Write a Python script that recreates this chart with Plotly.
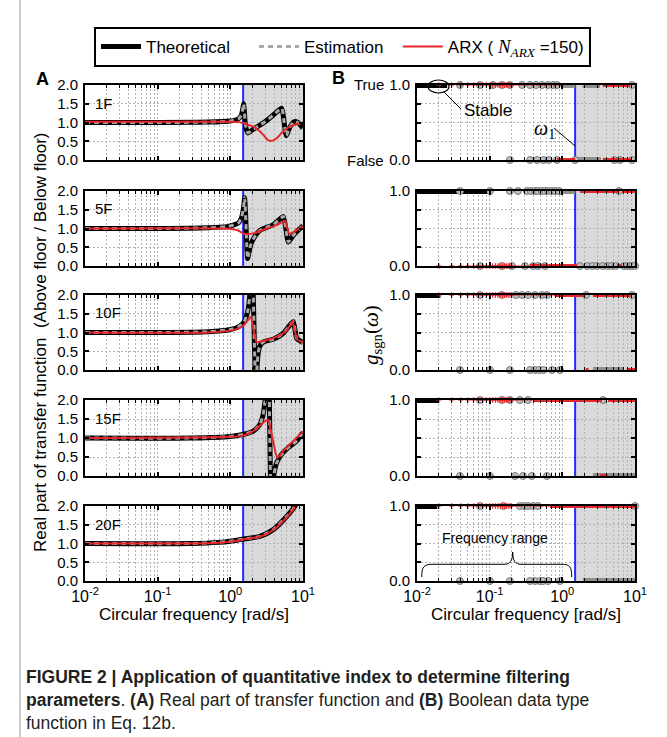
import plotly.graph_objects as go

W, H = 667, 737
SANS = "Liberation Sans, Arial, Helvetica, sans-serif"
SERIF = "Liberation Serif, Times New Roman, serif"
GRID = "#b4b4b4"
SHADE = "#d9d9d9"
RED = "#e8262a"
GRAY = "#a9a9a9"
BLUE = "#1f2cff"
NBSP = "\u00a0"

omega_1 = 1.5  # first natural circular frequency [rad/s]

panel_names = ["1F", "5F", "10F", "15F", "20F"]

# ---------------- (A) real part of transfer function ----------------
freq_theo_1F = [0.01, 0.1, 0.5, 1.0, 1.3, 1.42, 1.48, 1.52, 1.56, 1.6, 1.68, 1.75, 2.0, 2.5,
                3.0, 3.8, 4.6, 5.1, 5.5, 5.9, 6.5, 7.5, 8.5, 10]
theo_1F = [1.0, 1.0, 1.01, 1.04, 1.1, 1.2, 1.35, 1.5, 1.3, 1.0, 0.78, 0.72, 0.8, 0.92,
           1.02, 1.18, 1.32, 1.38, 1.0, 0.65, 0.85, 1.02, 1.0, 0.85]
freq_arx_1F = [0.01, 1.0, 1.3, 1.54, 1.8, 2.07, 2.5, 2.85, 3.3, 3.7, 4.35, 5.3, 6.6, 8.3, 10]
arx_1F = [1.02, 1.02, 1.01, 0.98, 0.93, 0.89, 0.78, 0.67, 0.53, 0.51, 0.58, 0.76, 0.89, 0.96, 1.0]

freq_theo_5F = [0.01, 0.1, 0.5, 0.9, 1.1, 1.3, 1.43, 1.53, 1.57, 1.62, 1.67, 1.73, 1.8, 1.9,
                2.07, 2.56, 3.9, 5.0, 5.36, 5.8, 6.28, 7.36, 9.6, 10]
theo_5F = [1.0, 1.0, 1.02, 1.05, 1.09, 1.15, 1.3, 1.6, 1.82, 1.4, 0.7, 0.2, 0.35, 0.55,
           0.72, 0.95, 1.1, 1.28, 1.32, 1.0, 0.64, 0.82, 1.04, 1.06]
freq_arx_5F = [0.01, 0.8, 1.1, 1.3, 1.54, 2.07, 3.16, 4.35, 5.65, 6.1, 6.5, 7.36, 9.6, 10]
arx_5F = [1.0, 1.0, 0.98, 0.94, 0.86, 0.87, 1.0, 1.09, 1.21, 1.0, 0.86, 0.9, 1.04, 1.05]

freq_theo_10F = [0.01, 0.1, 0.5, 1.0, 1.3, 1.54, 1.75, 1.87, 1.95, 2.05, 2.15, 2.25, 2.35, 2.5,
                 2.85, 3.9, 5.36, 6.62, 7.36, 8.2, 9.6, 10]
theo_10F = [1.0, 1.0, 1.02, 1.08, 1.15, 1.28, 1.6, 2.1, 2.8, 2.2, 0.6, -0.6, 0.2, 0.6,
            0.75, 0.82, 0.98, 1.2, 1.29, 0.84, 0.75, 0.72]
freq_arx_10F = [0.01, 0.5, 1.0, 1.3, 1.54, 1.75, 1.91, 2.1, 2.3, 2.6, 3.9, 5.36, 6.62, 7.2,
                7.6, 8.3, 9.6, 10]
arx_10F = [1.0, 1.0, 1.05, 1.11, 1.2, 1.33, 1.42, 1.05, 0.75, 0.76, 0.85, 0.98, 1.18, 1.3,
           1.12, 0.82, 0.75, 0.73]

freq_theo_15F = [0.01, 0.3, 1.0, 1.54, 2.07, 2.56, 2.85, 3.0, 3.2, 3.35, 3.5, 3.65, 3.8, 3.95,
                 4.35, 5.08, 6.28, 8.2, 9.6, 10]
theo_15F = [1.0, 1.0, 1.04, 1.1, 1.18, 1.36, 1.65, 1.97, 2.5, 3.2, 1.0, -1.0, -0.4, 0.0,
            0.35, 0.57, 0.75, 0.92, 1.1, 1.13]
freq_arx_15F = [0.01, 1.0, 1.54, 2.07, 2.56, 3.0, 3.33, 3.6, 4.0, 4.43, 5.36, 7.0, 9.6, 10]
arx_15F = [1.0, 1.03, 1.07, 1.18, 1.33, 1.44, 1.48, 1.2, 0.8, 0.48, 0.66, 0.88, 1.14, 1.16]

freq_theo_20F = [0.01, 0.3, 0.7, 1.0, 1.54, 2.56, 3.9, 5.96, 7.76, 9.0, 10]
theo_20F = [1.0, 1.0, 1.03, 1.06, 1.12, 1.19, 1.37, 1.72, 2.0, 2.3, 2.6]
freq_arx_20F = [0.01, 0.3, 0.7, 1.0, 1.54, 2.56, 3.9, 5.96, 7.76, 9.0, 10]
arx_20F = [1.0, 1.0, 1.02, 1.05, 1.11, 1.18, 1.36, 1.7, 1.98, 2.28, 2.55]

freq_theo = [freq_theo_1F, freq_theo_5F, freq_theo_10F, freq_theo_15F, freq_theo_20F]
theo_vals = [theo_1F, theo_5F, theo_10F, theo_15F, theo_20F]
# the estimated transfer function follows the theoretical one
freq_est = freq_theo
est_vals = theo_vals
freq_arx = [freq_arx_1F, freq_arx_5F, freq_arx_10F, freq_arx_15F, freq_arx_20F]
arx_vals = [arx_1F, arx_5F, arx_10F, arx_15F, arx_20F]

# ---------------- (B) boolean function g_sgn(w) ----------------
# runs are (start, end) frequency intervals; points are single frequencies
b_theo_true_runs = [
    [(0.01, 0.026)],
    [(0.01, 0.101)],
    [(0.01, 0.021)],
    [(0.01, 0.0195)],
    [(0.01, 0.019)],
]
b_est_true_pts = [
    [0.039, 0.0736, 0.111, 0.148, 0.19, 0.279, 0.359, 0.434, 0.525, 0.635, 0.744, 0.845, 9.09],
    [0.039, 0.101, 0.19, 0.245, 0.326, 0.37, 0.42, 0.46, 0.52, 0.58, 0.64, 0.72, 0.8, 0.9, 6.02],
    [0.0736, 0.148, 0.23, 0.279, 0.337, 0.421, 0.525, 0.615, 2.12, 9.09],
    [0.0736, 0.148, 0.19, 0.26, 0.337, 3.63],
    [0.0736, 0.155, 0.26, 0.3, 0.337, 0.395, 0.462, 10.0],
]
b_est_false_pts = [
    [0.19, 0.36, 0.45, 0.55, 0.65, 0.845, 1.5, 5.2, 6.2, 9.1],
    [0.0736, 0.148, 0.203, 0.306, 0.395, 0.462, 0.577, 1.75, 2.2, 2.6, 3.0, 3.6, 4.2, 4.8,
     5.4, 7.0, 7.8, 8.5, 9.2, 10.0],
    [0.039, 0.101, 0.19, 0.359, 0.42, 0.48, 0.55, 0.721, 0.929],
    [0.039, 0.101, 0.223, 0.288, 0.38, 0.615],
    [0.039, 0.101, 0.19, 0.359, 0.421, 0.493, 0.542, 0.635, 0.929],
]
b_est_true_runs = [
    [(1.02, 1.5), (1.9, 3.3)],
    [(1.0, 1.5)],
    [],
    [],
    [],
]
b_est_false_runs = [
    [(1.6, 3.4)],
    [],
    [(2.64, 7.0)],
    [(2.64, 10.0)],
    [(1.92, 10.0)],
]
b_arx_true_runs = [
    [(3.6, 8.6)],
    [(1.75, 5.84), (6.62, 10.0)],
    [(0.8, 2.05), (2.64, 8.7)],
    [(0.395, 3.5), (4.25, 10.0)],
    [(0.677, 10.0)],
]
b_arx_false_runs = [
    [(0.85, 1.5), (3.6, 9.1)],
    [(0.36, 1.59), (5.65, 6.6)],
    [(2.1, 2.3), (7.7, 10.0)],
    [(3.3, 4.2)],
    [],
]
b_arx_thin_runs = [
    [(0.2, 1.0)],
    [(0.2, 0.36)],
    [(0.2, 0.8)],
    [(0.2, 0.395)],
    [(0.2, 0.677)],
]
b_arx_sparse_level = [1, 0, 1, 1, 1]
arx_sparse_freq = [0.02, 0.03, 0.04, 0.05, 0.06, 0.07, 0.08, 0.09, 0.10, 0.11, 0.12, 0.13,
                   0.14, 0.15, 0.16, 0.17, 0.18, 0.19, 0.20]

# axis ticks
x_major = [0.01, 0.1, 1, 10]
x_major_text = ["10<sup>-2</sup>", "10<sup>-1</sup>", "10<sup>0</sup>", "10<sup>1</sup>"]
x_minor = [m * d for d in (0.01, 0.1, 1.0) for m in range(2, 10)]

# page layout in pixels
row_px = [(85, 160), (191, 266), (295, 370), (400, 476), (506, 581)]
col_px = [(85, 303), (417, 635)]


def px(x):
    return x / W


def py(y):
    return 1 - y / H


def runs_xy(runs, level):
    xs, ys = [], []
    for f0, f1 in runs:
        xs += [f0, f1, None]
        ys += [level, level, None]
    return xs, ys


fig = go.Figure()
layout = dict(
    width=W, height=H, margin=dict(l=0, r=0, t=0, b=0, autoexpand=False),
    paper_bgcolor="white", plot_bgcolor="white",
    font=dict(family=SANS, size=15, color="black"),
    showlegend=True,
    legend=dict(orientation="h", x=px(342.5), xanchor="center", y=py(27), yanchor="top",
                bordercolor="black", borderwidth=2, bgcolor="white",
                font=dict(family=SANS, size=17, color="black"),
                itemclick=False, itemwidth=40),
    shapes=[], annotations=[],
)

for r in range(5):
    top, bot = row_px[r]
    for c in range(2):
        n = r * 2 + c + 1
        sfx = "" if n == 1 else str(n)
        xa, ya = "x" + sfx, "y" + sfx
        last = r == 4
        x0p, x1p = col_px[c]
        ymax = 2 if c == 0 else 1
        layout["xaxis" + sfx] = dict(
            type="log", range=[-2, 1], domain=[px(x0p), px(x1p)], anchor=ya,
            showline=True, linecolor="black", linewidth=2, mirror="ticks",
            ticks="inside", ticklen=4, tickwidth=1.5, tickcolor="black",
            tickmode="array", tickvals=x_major, ticktext=x_major_text,
            showticklabels=last, tickfont=dict(size=16),
            showgrid=True, gridcolor=GRID, griddash="2px,2px", gridwidth=1,
            minor=dict(tickmode="array", tickvals=x_minor, ticks="inside", ticklen=3,
                       tickwidth=1, tickcolor="black", showgrid=True, gridcolor=GRID,
                       griddash="2px,2px", gridwidth=1),
            zeroline=False, fixedrange=True,
            title=dict(text="Circular frequency [rad/s]" if last else "",
                       font=dict(size=17), standoff=2),
        )
        if c == 0:
            yt = dict(range=[0, 2], tickvals=[0, 0.5, 1, 1.5, 2],
                      ticktext=["0.0", "0.5", "1.0", "1.5", "2.0"])
        else:
            yt = dict(range=[0, 1], tickvals=[0, 0.25, 0.5, 0.75, 1],
                      ticktext=["0.0", "", "", "", "1.0"])
        layout["yaxis" + sfx] = dict(
            domain=[py(bot), py(top)], anchor=xa, tickmode="array",
            showline=True, linecolor="black", linewidth=2, mirror="ticks",
            ticks="inside", ticklen=4, tickwidth=2, tickcolor="black",
            showgrid=True, gridcolor=GRID, griddash="2px,2px", gridwidth=1,
            zeroline=False, fixedrange=True, tickfont=dict(size=15), ticklabelstandoff=2,
            **yt,
        )
        # shaded band above the first natural frequency
        layout["shapes"].append(dict(type="rect", xref=xa, yref=ya + " domain",
                                     x0=omega_1, x1=10, y0=0, y1=1, fillcolor=SHADE,
                                     line=dict(width=0), layer="below"))
        # marker line at the first natural frequency
        fig.add_trace(go.Scatter(x=[omega_1, omega_1], y=[0, ymax], xaxis=xa, yaxis=ya,
                                 mode="lines", line=dict(color=BLUE, width=2),
                                 showlegend=False, hoverinfo="skip"))

        if c == 0:
            first = r == 0
            fig.add_trace(go.Scatter(
                x=freq_theo[r], y=theo_vals[r], xaxis=xa, yaxis=ya, mode="lines",
                line=dict(color="black", width=5, shape="spline", smoothing=0.6),
                name="Theoretical" + NBSP * 4, showlegend=first, legendrank=1,
                hoverinfo="skip"))
            fig.add_trace(go.Scatter(
                x=freq_est[r], y=est_vals[r], xaxis=xa, yaxis=ya, mode="lines",
                line=dict(color=GRAY, width=3, dash="5px,4px", shape="spline", smoothing=0.6),
                name="Estimation" + NBSP * 2, showlegend=first, legendrank=2,
                hoverinfo="skip"))
            fig.add_trace(go.Scatter(
                x=freq_arx[r], y=arx_vals[r], xaxis=xa, yaxis=ya, mode="lines",
                line=dict(color=RED, width=2, shape="spline", smoothing=0.6),
                name=("ARX ( <span style=\"font-family:'Liberation Serif';font-size:19px\">"
                      "<i>N</i><sub><i>ARX</i></sub></span> =150)"),
                showlegend=first, legendrank=3, hoverinfo="skip"))
        else:
            common = dict(xaxis=xa, yaxis=ya, showlegend=False, hoverinfo="skip",
                          cliponaxis=False)
            for runs, lvl in ((b_est_true_runs[r], 1), (b_est_false_runs[r], 0)):
                xs, ys = runs_xy(runs, lvl)
                fig.add_trace(go.Scatter(x=xs, y=ys, mode="lines",
                                         line=dict(color="#8f8f8f", width=6), **common))
            xs, ys = runs_xy(b_theo_true_runs[r], 1)
            fig.add_trace(go.Scatter(x=xs, y=ys, mode="lines",
                                     line=dict(color="black", width=6), **common))
            for pts, lvl in ((b_est_true_pts[r], 1), (b_est_false_pts[r], 0)):
                fig.add_trace(go.Scatter(
                    x=pts, y=[lvl] * len(pts), mode="markers",
                    marker=dict(size=7, color="#bdbdbd", line=dict(color="#7a7a7a", width=1)),
                    **common))
            xs, ys = runs_xy(b_arx_thin_runs[r], b_arx_sparse_level[r])
            fig.add_trace(go.Scatter(x=xs, y=ys, mode="lines",
                                     line=dict(color=RED, width=1.5, dash="2px,1px"), **common))
            fig.add_trace(go.Scatter(
                x=arx_sparse_freq, y=[b_arx_sparse_level[r]] * len(arx_sparse_freq),
                mode="markers", marker=dict(symbol="cross-thin", size=4,
                                            line=dict(color=RED, width=1.2)), **common))
            for runs, lvl in ((b_arx_true_runs[r], 1), (b_arx_false_runs[r], 0)):
                xs, ys = runs_xy(runs, lvl)
                fig.add_trace(go.Scatter(x=xs, y=ys, mode="lines",
                                         line=dict(color=RED, width=4), **common))

    # curve labels inside panel A
    layout["annotations"].append(dict(
        text=panel_names[r], xref="paper", yref="paper", x=px(93), y=py(top + 18),
        xanchor="left", yanchor="middle", showarrow=False, font=dict(size=15)))

ann = layout["annotations"]
ann += [
    dict(text="<b>A</b>", x=px(42), y=py(79), font=dict(size=18)),
    dict(text="<b>B</b>", x=px(338), y=py(78), font=dict(size=18)),
    dict(text="True", x=px(386), y=py(84), xanchor="right", font=dict(size=15)),
    dict(text="False", x=px(386), y=py(160), xanchor="right", font=dict(size=15)),
    dict(text="Stable", x=px(488), y=py(111), font=dict(size=17)),
    dict(text="<i>ω</i><sub>1</sub>", x=px(544), y=py(130),
         font=dict(family=SERIF, size=20)),
    dict(text="Frequency range", x=px(495), y=py(538), font=dict(size=14)),
    dict(text="Real part of transfer function  (Above floor / Below floor)",
         x=px(40), y=py(342), textangle=-90, font=dict(size=17)),
    dict(text="<i>g</i><sub>sgn</sub>(<i>ω</i>)", x=px(372), y=py(335), textangle=-90,
         font=dict(family=SERIF, size=21)),
    dict(text=("<b>FIGURE 2 | Application of quantitative index to determine filtering</b><br>"
               "<b>parameters</b>. <b>(A)</b> Real part of transfer function and "
               "<b>(B)</b> Boolean data type<br>function in Eq. 12b."),
         x=px(24), y=py(665), xanchor="left", yanchor="top", align="left",
         font=dict(size=17.5, color="#231f20")),
]
for a in ann:
    a.setdefault("xref", "paper")
    a.setdefault("yref", "paper")
    a.setdefault("showarrow", False)
    a.setdefault("xanchor", "center")
    a.setdefault("yanchor", "middle")

shp = layout["shapes"]
shp += [
    # ellipse around the stable region and its leader
    dict(type="circle", xref="paper", yref="paper", x0=px(428), x1=px(449),
         y0=py(93), y1=py(80), line=dict(color="black", width=1.2)),
    dict(type="line", xref="paper", yref="paper", x0=px(444), y0=py(92), x1=px(461),
         y1=py(109), line=dict(color="black", width=1)),
    # leader from w1 to the marker line
    dict(type="line", xref="paper", yref="paper", x0=px(554), y0=py(128), x1=px(575),
         y1=py(146), line=dict(color="black", width=1)),
    # curly brace under "Frequency range"
    dict(type="path", xref="paper", yref="paper", line=dict(color="black", width=1),
         path=(f"M {px(421.7)},{py(577)} "
               f"C {px(421.7)},{py(567)} {px(424)},{py(564.3)} {px(432)},{py(564.3)} "
               f"L {px(504)},{py(564.3)} "
               f"C {px(510)},{py(564.3)} {px(512.7)},{py(561)} {px(512.7)},{py(552)} "
               f"C {px(512.7)},{py(561)} {px(515.5)},{py(564.3)} {px(521)},{py(564.3)} "
               f"L {px(562)},{py(564.3)} "
               f"C {px(570)},{py(564.3)} {px(571.7)},{py(567)} {px(571.7)},{py(577)}")),
    # left rule of the figure frame
    dict(type="line", xref="paper", yref="paper", x0=px(20), x1=px(20), y0=0, y1=1,
         line=dict(color="#9a9a9a", width=1)),
]

fig.update_layout(**layout)
fig.write_html("out.html")
